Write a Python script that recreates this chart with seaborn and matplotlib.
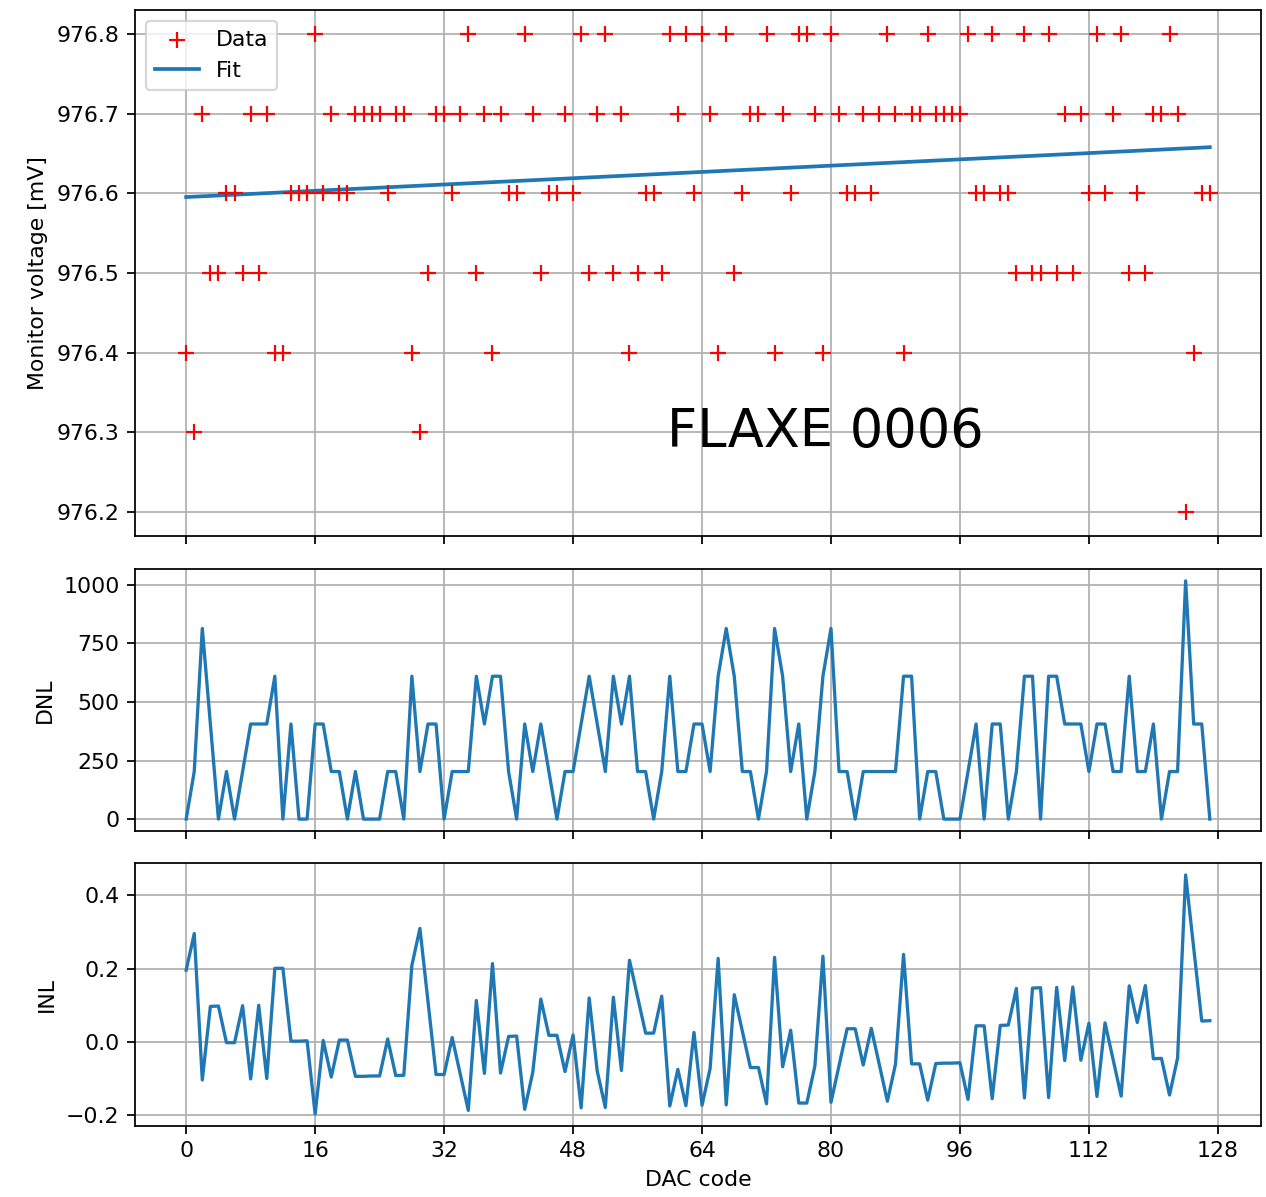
import numpy as np
import pandas as pd
import matplotlib
matplotlib.use("Agg")
import matplotlib.pyplot as plt
import seaborn as sns

# ---------------- data ----------------
dac_codes = list(range(128))

voltage_mv = [976.4, 976.3, 976.7, 976.5, 976.5, 976.6, 976.6, 976.5, 976.7, 976.5,
              976.7, 976.4, 976.4, 976.6, 976.6, 976.6, 976.8, 976.6, 976.7, 976.6,
              976.6, 976.7, 976.7, 976.7, 976.7, 976.6, 976.7, 976.7, 976.4, 976.3,
              976.5, 976.7, 976.7, 976.6, 976.7, 976.8, 976.5, 976.7, 976.4, 976.7,
              976.6, 976.6, 976.8, 976.7, 976.5, 976.6, 976.6, 976.7, 976.6, 976.8,
              976.5, 976.7, 976.8, 976.5, 976.7, 976.4, 976.5, 976.6, 976.6, 976.5,
              976.8, 976.7, 976.8, 976.6, 976.8, 976.7, 976.4, 976.8, 976.5, 976.6,
              976.7, 976.7, 976.8, 976.4, 976.7, 976.6, 976.8, 976.8, 976.7, 976.4,
              976.8, 976.7, 976.6, 976.6, 976.7, 976.6, 976.7, 976.8, 976.7, 976.4,
              976.7, 976.7, 976.8, 976.7, 976.7, 976.7, 976.7, 976.8, 976.6, 976.6,
              976.8, 976.6, 976.6, 976.5, 976.8, 976.5, 976.5, 976.8, 976.5, 976.7,
              976.5, 976.7, 976.6, 976.8, 976.6, 976.7, 976.8, 976.5, 976.6, 976.5,
              976.7, 976.7, 976.8, 976.7, 976.2, 976.4, 976.6, 976.6]

dnl = [0, 203, 814, 406, 0, 203, 0, 203, 406, 406,
       406, 610, 0, 406, 0, 0, 406, 406, 203, 203,
       0, 203, 0, 0, 0, 203, 203, 0, 610, 203,
       406, 406, 0, 203, 203, 203, 610, 406, 610, 610,
       203, 0, 406, 203, 406, 203, 0, 203, 203, 406,
       610, 406, 203, 610, 406, 610, 203, 203, 0, 203,
       610, 203, 203, 406, 406, 203, 610, 814, 610, 203,
       203, 0, 203, 814, 610, 203, 406, 0, 203, 610,
       814, 203, 203, 0, 203, 203, 203, 203, 203, 610,
       610, 0, 203, 203, 0, 0, 0, 203, 406, 0,
       406, 406, 0, 203, 610, 610, 0, 610, 610, 406,
       406, 406, 203, 406, 406, 203, 203, 610, 203, 203,
       406, 0, 203, 203, 1017, 406, 406, 0]

inl = [0.196, 0.296, -0.104, 0.097, 0.098, -0.002, -0.002, 0.099, -0.101, 0.100,
       -0.100, 0.201, 0.201, 0.002, 0.002, 0.003, -0.197, 0.004, -0.096, 0.005,
       0.005, -0.094, -0.094, -0.093, -0.093, 0.008, -0.092, -0.091, 0.209, 0.310,
       0.110, -0.089, -0.089, 0.012, -0.088, -0.187, 0.113, -0.086, 0.214, -0.085,
       0.015, 0.016, -0.184, -0.083, 0.117, 0.018, 0.018, -0.081, 0.019, -0.180,
       0.120, -0.080, -0.179, 0.122, -0.078, 0.223, 0.123, 0.024, 0.024, 0.125,
       -0.175, -0.075, -0.174, 0.026, -0.173, -0.073, 0.228, -0.172, 0.129, 0.029,
       -0.070, -0.070, -0.169, 0.231, -0.068, 0.032, -0.167, -0.167, -0.066, 0.234,
       -0.165, -0.065, 0.036, 0.036, -0.063, 0.037, -0.062, -0.162, -0.061, 0.239,
       -0.060, -0.060, -0.159, -0.059, -0.058, -0.058, -0.057, -0.157, 0.044, 0.044,
       -0.155, 0.045, 0.046, 0.146, -0.153, 0.147, 0.148, -0.152, 0.149, -0.051,
       0.150, -0.050, 0.051, -0.149, 0.052, -0.048, -0.148, 0.153, 0.053, 0.154,
       -0.046, -0.045, -0.145, -0.044, 0.456, 0.257, 0.057, 0.058]

x_ticks = [0, 16, 32, 48, 64, 80, 96, 112, 128]
v_ticks = [976.2, 976.3, 976.4, 976.5, 976.6, 976.7, 976.8]
label_text = "FLAXE 0006"

# linear fit of the measured data
slope, intercept = np.polyfit(dac_codes, voltage_mv, 1)
fit_mv = [intercept + slope * c for c in dac_codes]

df = pd.DataFrame({"code": dac_codes, "v": voltage_mv, "fit": fit_mv,
                   "dnl": dnl, "inl": inl})

# ---------------- figure ----------------
W, H, DPI = 1266, 1197, 158
fig = plt.figure(figsize=(W / DPI, H / DPI), dpi=DPI)

def rect(l, t, r, b):
    return [l / W, 1 - b / H, (r - l) / W, (b - t) / H]

ax1 = fig.add_axes(rect(135, 10, 1261, 536))
ax2 = fig.add_axes(rect(135, 569, 1261, 831), sharex=ax1)
ax3 = fig.add_axes(rect(135, 863, 1261, 1126), sharex=ax1)

sns.scatterplot(data=df, x="code", y="v", ax=ax1, marker="+", color="red",
                s=50, linewidth=1.0, label="Data", zorder=3)
sns.lineplot(data=df, x="code", y="fit", ax=ax1, color="C0", linewidth=1.7,
             label="Fit", zorder=2)
ax1.set_yticks(v_ticks)
ax1.set_yticklabels([f"{t:.1f}" for t in v_ticks])
ax1.set_ylabel("Monitor voltage [mV]")
ax1.set_xlabel("")
ax1.legend(loc="upper left")
ax1.text(0.613, 0.197, label_text, transform=ax1.transAxes, fontsize=24,
         ha="center", va="center", color="black")

sns.lineplot(data=df, x="code", y="dnl", ax=ax2, color="C0", linewidth=1.5)
ax2.set_ylabel("DNL")
ax2.set_xlabel("")
ax2.set_yticks([0, 250, 500, 750, 1000])

sns.lineplot(data=df, x="code", y="inl", ax=ax3, color="C0", linewidth=1.5)
ax3.set_ylabel("INL")
ax3.set_xlabel("DAC code")
ax3.set_yticks([-0.2, 0.0, 0.2, 0.4])

for ax in (ax1, ax2, ax3):
    ax.grid(True)
    ax.set_xticks(x_ticks)
for ax in (ax1, ax2):
    ax.tick_params(labelbottom=False)
ax1.set_xlim(-6.35, 133.35)

fig.savefig("out.png", dpi=DPI)
